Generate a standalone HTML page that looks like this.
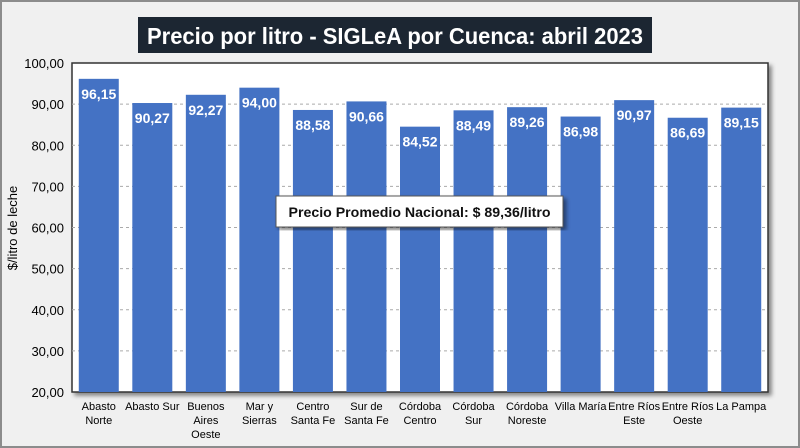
<!DOCTYPE html>
<html><head><meta charset="utf-8"><style>
body{margin:0;width:800px;height:448px;overflow:hidden;background:#efefef;font-family:"Liberation Sans",sans-serif}
#frame{position:absolute;left:0;top:0;width:796px;height:444px;border:2px solid #8c8c8c;background:#f0f0f0}
</style></head><body>
<div id="frame"></div>
<svg width="800" height="448" style="position:absolute;left:0;top:0" id="chart">
<defs><filter id="sh" x="-5%" y="-5%" width="115%" height="115%"><feDropShadow dx="3" dy="3" stdDeviation="2" flood-color="#000" flood-opacity="0.45"/></filter></defs>
<rect x="138" y="17" width="514" height="36" fill="#1c2632"/>
<text x="395" y="44" text-anchor="middle" fill="#fff" font-size="23" font-weight="bold" textLength="496" lengthAdjust="spacingAndGlyphs">Precio por litro - SIGLeA por Cuenca: abril 2023</text>
<rect x="72" y="63" width="696" height="329" fill="#fff" stroke="#333" stroke-width="1.5" filter="url(#sh)"/>
<g id="grid"></g><g id="bars"></g><g id="yt"></g><g id="xt"></g>
<text transform="translate(17,228) rotate(-90)" text-anchor="middle" font-size="13" fill="#000">$/litro de leche</text>
<rect x="276" y="196" width="287" height="31" fill="#fff" stroke="#555" filter="url(#sh)"/>
<text x="419.5" y="217" text-anchor="middle" font-size="14" font-weight="bold" fill="#111" textLength="262" lengthAdjust="spacingAndGlyphs">Precio Promedio Nacional: $ 89,36/litro</text>
</svg>
<script>
const categories=[["Abasto","Norte"],["Abasto Sur"],["Buenos","Aires","Oeste"],["Mar y","Sierras"],["Centro","Santa Fe"],["Sur de","Santa Fe"],["Córdoba","Centro"],["Córdoba","Sur"],["Córdoba","Noreste"],["Villa María"],["Entre Ríos","Este"],["Entre Ríos","Oeste"],["La Pampa"]];
const values=[96.15,90.27,92.27,94.00,88.58,90.66,84.52,88.49,89.26,86.98,90.97,86.69,89.15];
const yTicks=[20,30,40,50,60,70,80,90,100];
const NS="http://www.w3.org/2000/svg";
const L=72,R=768,T=63,B=392,ymin=20,ymax=100;
const y=v=>B-(v-ymin)/(ymax-ymin)*(B-T);
const bw=(R-L)/categories.length;
const x=i=>L+bw*i+bw/2;
function mk(t,a,p){const e=document.createElementNS(NS,t);for(const k in a)e.setAttribute(k,a[k]);p.appendChild(e);return e;}
const fmt=v=>v.toFixed(2).replace('.',',');
yTicks.forEach(t=>{
 if(t>ymin&&t<ymax){const g=mk('line',{x1:L,x2:R,y1:y(t),y2:y(t),stroke:'#aaa','stroke-dasharray':'3,3'},document.getElementById('grid'));
 
 }
 const tx=mk('text',{x:L-8,y:y(t)+5,'text-anchor':'end','font-size':13,fill:'#000'},document.getElementById('yt'));
 tx.textContent=fmt(t);
 
 
});
values.forEach((v,i)=>{
 const r=mk('rect',{x:x(i)-20,y:y(v),width:40,height:B-y(v),fill:'#4472c4'},document.getElementById('bars'));
 
 
 const lb=mk('text',{x:x(i),y:y(v)+20,'text-anchor':'middle','font-size':14,'font-weight':'bold',fill:'#fff'},document.getElementById('bars'));
 lb.textContent=fmt(v);
 
 
 categories[i].forEach((s,j)=>{
  const c=mk('text',{x:x(i),y:B+18+j*14,'text-anchor':'middle','font-size':11,fill:'#000'},document.getElementById('xt'));
  c.textContent=s;
  
  
 });
});
</script>
</body></html>
